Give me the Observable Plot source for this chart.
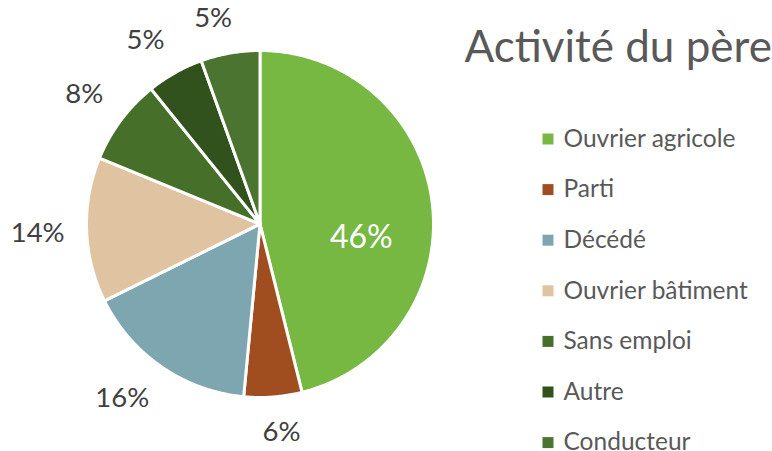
<!DOCTYPE html>
<html>
<head>
<meta charset="utf-8">
<script src="https://cdn.jsdelivr.net/npm/d3@7"></script>
<script src="https://cdn.jsdelivr.net/npm/@observablehq/plot@0.6"></script>
<style>
  html, body { margin: 0; padding: 0; background: #fff; overflow: hidden; }
  #chart svg { display: block; }
</style>
</head>
<body>
<div id="chart"></div>
<script>
// ---- Data ----
const categories = ["Ouvrier agricole", "Parti", "Décédé", "Ouvrier bâtiment", "Sans emploi", "Autre", "Conducteur"];
const values = [46.1, 5.4, 16.2, 13.5, 8.0, 5.3, 5.5];
const labels = ["46%", "6%", "16%", "14%", "8%", "5%", "5%"];
const colors = ["#77B843", "#A04E20", "#7EA6B0", "#E0C3A0", "#466F2A", "#31511D", "#4B7430"];
const title = "Activité du père";

// ---- Layout ----
const W = 772, H = 451;
const cx = 259.5, cy = 223.5, R = 173.5;
const FONT = "Lato, 'Open Sans', sans-serif";
const labelSize = 27.5, insideSize = 32, legendSize = 24.5, titleSize = 44;

const pie = d3.pie().sort(null).value(d => d)(values);

// slice polygons from the pie angles
const slices = [];
pie.forEach((p, i) => {
  const c = categories[i];
  slices.push({cat: c, x: cx, y: cy});
  const n = Math.max(2, Math.ceil((p.endAngle - p.startAngle) / (Math.PI / 360)));
  for (let k = 0; k <= n; k++) {
    const a = p.startAngle + (p.endAngle - p.startAngle) * k / n;
    slices.push({cat: c, x: cx + R * Math.sin(a), y: cy - R * Math.cos(a)});
  }
  slices.push({cat: c, x: cx, y: cy});
});

// label positions: box placed just outside the arc at the slice's mid angle
const ctx = document.createElement("canvas").getContext("2d");
const labelData = pie.map((p, i) => {
  const mid = (p.startAngle + p.endAngle) / 2;
  if (i === 0) {
    const a = mid + 15 * Math.PI / 180, d = 0.59 * R;
    return {text: labels[i], x: cx + d * Math.sin(a), y: cy - d * Math.cos(a), inside: true};
  }
  ctx.font = `${labelSize}px ${FONT}`;
  const w = ctx.measureText(labels[i]).width, h = 26;
  const d = R + 22;
  const px = cx + d * Math.sin(mid), py = cy - d * Math.cos(mid);
  return {
    text: labels[i],
    x: px + (w / 2) * Math.tanh(5 * Math.sin(mid)),
    y: py - (h / 2) * Math.tanh(5 * Math.cos(mid)),
    inside: false
  };
});

const legend = categories.map((c, i) => ({cat: c, y: 138.5 + i * 50.6}));

const chart = Plot.plot({
  width: W,
  height: H,
  margin: 0,
  x: {type: "linear", domain: [0, W], range: [0, W], axis: null},
  y: {type: "linear", domain: [0, H], range: [0, H], axis: null},
  color: {domain: categories, range: colors},
  style: {fontFamily: FONT, background: "#fff"},
  marks: [
    Plot.line(slices, {x: "x", y: "y", z: "cat", fill: "cat", stroke: "#fff", strokeWidth: 3, strokeLinejoin: "round", curve: "linear"}),
    Plot.text(labelData.filter(d => !d.inside), {x: "x", y: "y", text: "text", fill: "#404040", fontSize: labelSize, textAnchor: "middle", lineAnchor: "middle"}),
    Plot.text(labelData.filter(d => d.inside), {x: "x", y: "y", text: "text", fill: "#ffffff", fontSize: insideSize, textAnchor: "middle", lineAnchor: "middle"}),
    Plot.text([title], {x: 464, y: 47, text: d => d, fill: "#595959", fontSize: titleSize, textAnchor: "start", lineAnchor: "middle"}),
    Plot.dot(legend, {x: 547.5, y: "y", fill: "cat", symbol: "square", r: 6.2, stroke: null}),
    Plot.text(legend, {x: 563, y: "y", text: "cat", fill: "#595959", fontSize: legendSize, textAnchor: "start", lineAnchor: "middle"})
  ]
});
document.getElementById("chart").appendChild(chart);
</script>
</body>
</html>
